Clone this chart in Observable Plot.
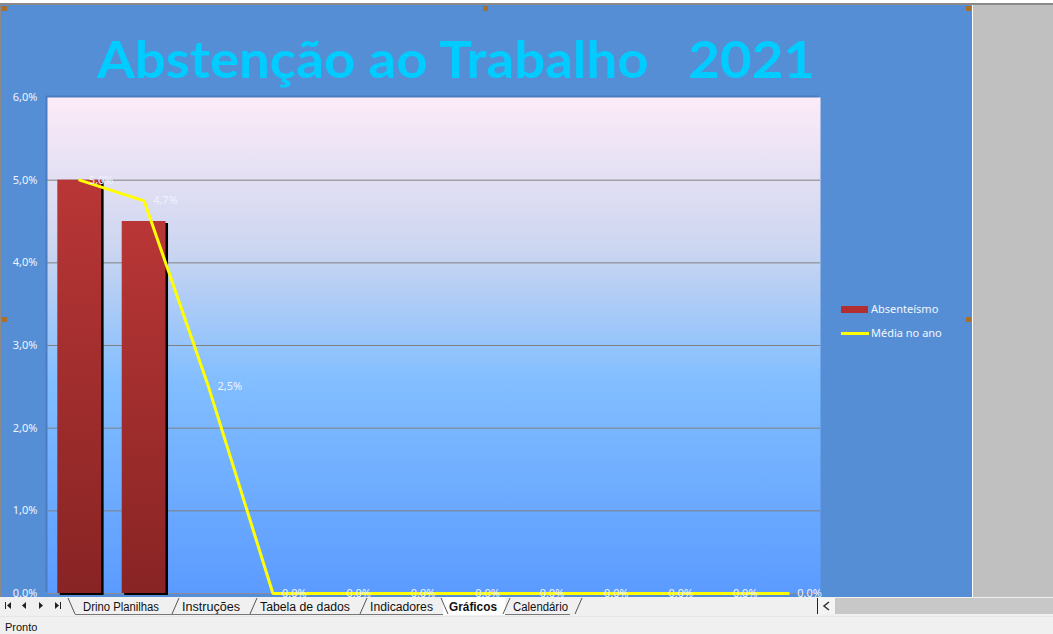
<!DOCTYPE html>
<html>
<head>
<meta charset="utf-8">
<script src="https://cdn.jsdelivr.net/npm/d3@7"></script>
<script src="https://cdn.jsdelivr.net/npm/@observablehq/plot@0.6"></script>
<style>
  html, body { margin: 0; padding: 0; background: #f0f0f0; }
  #page { position: relative; width: 1053px; height: 634px; overflow: hidden; background: #f0f0f0; font-family: "Liberation Sans", Arial, sans-serif; }
  .abs { position: absolute; }
</style>
</head>
<body>
<div id="page">
  <div class="abs" style="left:0;top:0;width:1053px;height:4px;background:#ffffff;"></div>
  <div class="abs" style="left:0;top:3px;width:1053px;height:2px;background:#8a8a8a;"></div>
  <div class="abs" style="left:973px;top:5px;width:80px;height:592px;background:#c0c0c0;"></div>
  <div class="abs" style="left:972px;top:5px;width:1px;height:592px;background:#ffffff;"></div>
  <div class="abs" style="left:0;top:5px;width:972px;height:592px;background:#558ed5;"></div>
  <div class="abs" style="left:0;top:5px;width:1px;height:592px;background:#8a8a8a;"></div>
  <div id="chart" class="abs" style="left:0;top:0;"></div>
  <svg id="title" class="abs" style="left:0;top:0;" width="973" height="95"></svg>
  <div id="legend" class="abs" style="left:0;top:0;"></div>
  <div id="handles"></div>
  <svg id="tabs" class="abs" style="left:0;top:597px;" width="1053" height="37"></svg>
</div>
<script>
// ---- data ----
const meses = ["Jan", "Fev", "Mar", "Abr", "Mai", "Jun", "Jul", "Ago", "Set", "Out", "Nov", "Dez"];
const absenteismo = [5.0, 4.5, 0, 0, 0, 0, 0, 0, 0, 0, 0, 0];
const mediaAno = [5.0, 4.75, 2.5, 0, 0, 0, 0, 0, 0, 0, 0, 0];
const mediaRotulos = ["5,0%", "4,7%", "2,5%", "0.0%", "0.0%", "0.0%", "0.0%", "0.0%", "0.0%", "0.0%", "0.0%", "0.0%"];
const yTicks = [0, 1, 2, 3, 4, 5, 6];
const yTickLabels = ["0.0%", "1,0%", "2,0%", "3,0%", "4,0%", "5,0%", "6,0%"];
const gridValues = [1, 2, 3, 4, 5];
const tituloTexto = "Abstenção ao Trabalho   2021";
const serieNomes = ["Absenteísmo", "Média no ano"];
const abas = ["Drino Planilhas", "Instruções", "Tabela de dados", "Indicadores", "Gráficos", "Calendário"];
const abaAtiva = "Gráficos";
const statusTexto = "Pronto";

const data = meses.map((m, i) => ({mes: m, abs: absenteismo[i], media: mediaAno[i], rotulo: mediaRotulos[i]}));

// ---- chart ----
const chart = Plot.plot({
  width: 973,
  height: 597,
  marginLeft: 47,
  marginRight: 153,
  marginTop: 97,
  marginBottom: 4,
  style: {background: "transparent", fontFamily: "'Noto Sans', 'Liberation Sans', sans-serif", fontSize: "11px", color: "#f0f4ff", overflow: "visible"},
  x: {domain: meses, paddingInner: 0.32, paddingOuter: 0.16, round: false, axis: null},
  y: {domain: [0, 6], ticks: yTicks, tickFormat: d => yTickLabels[yTicks.indexOf(d)], tickSize: 0, tickPadding: 10, label: null, axis: "left"},
  marks: [
    Plot.frame({fill: "#4c7cc0", dx: -2, dy: -2}),
    Plot.frame({fill: "url(#bgGrad)"}),
    Plot.ruleY(gridValues, {stroke: "#808080", strokeWidth: 1}),
    Plot.ruleY([0], {stroke: "#8a8a9a", strokeWidth: 1}),
    Plot.barY(data, {x: "mes", y: "abs", fill: "black", dx: 2.5, dy: 2}),
    Plot.barY(data, {x: "mes", y: "abs", fill: "url(#barGrad)"}),
    Plot.line(data, {x: "mes", y: "media", stroke: "#ffff00", strokeWidth: 3, strokeLinejoin: "miter"}),
    Plot.text(data, {x: "mes", y: "media", text: "rotulo", textAnchor: "start", dx: 9, fill: "#eef3ff", fontSize: 11})
  ]
});

d3.select(chart).insert("defs", ":first-child").html(`
  <linearGradient id="bgGrad" x1="0" y1="0" x2="0" y2="1">
    <stop offset="0" stop-color="#fdebf8"/>
    <stop offset="0.3" stop-color="#cdd6f0"/>
    <stop offset="0.57" stop-color="#82beff"/>
    <stop offset="1" stop-color="#5b9bff"/>
  </linearGradient>
  <linearGradient id="barGrad" x1="0" y1="0" x2="0" y2="1">
    <stop offset="0" stop-color="#b93636"/>
    <stop offset="1" stop-color="#882424"/>
  </linearGradient>`);
document.getElementById("chart").appendChild(chart);

// ---- title ----
d3.select("#title").append("text")
  .attr("x", 97).attr("y", 78)
  .attr("textLength", 718).attr("lengthAdjust", "spacingAndGlyphs")
  .attr("font-family", "Lato, 'Open Sans', sans-serif").attr("font-weight", 700)
  .attr("font-size", 52).attr("fill", "#00ccff")
  .style("white-space", "pre")
  .text(tituloTexto);

// ---- legend ----
const legend = d3.select("#legend");
legend.append("div").style("position", "absolute").style("left", "841px").style("top", "306px")
  .style("width", "27px").style("height", "7px").style("background", "#b32f2f");
legend.append("div").style("position", "absolute").style("left", "841px").style("top", "332px")
  .style("width", "28px").style("height", "3px").style("background", "#ffff00");
serieNomes.forEach((n, i) => {
  legend.append("div").style("position", "absolute").style("left", "871px").style("top", (301 + i * 24) + "px")
    .style("font-family", "'Noto Sans', sans-serif")
    .style("font-size", "11px").style("color", "#f2f6ff").style("white-space", "nowrap").text(n);
});

// selection handles
[[2, 6], [483, 6], [966, 6], [2, 317], [966, 317]].forEach(([x, y]) => {
  d3.select("#handles").append("div").attr("class", "abs")
    .style("left", x + "px").style("top", y + "px").style("width", "5px").style("height", "5px")
    .style("background", "#a8702c");
});

// ---- sheet tabs & status bar ----
const tabs = d3.select("#tabs");
tabs.append("rect").attr("x", 0).attr("y", 0).attr("width", 1053).attr("height", 37).attr("fill", "#f0f0f0");
const nav = tabs.append("g").attr("fill", "#222");
nav.append("rect").attr("x", 5).attr("y", 5).attr("width", 1).attr("height", 7);
nav.append("path").attr("d", "M7,8.5 L11,5 L11,12 Z");
nav.append("path").attr("d", "M22,8.5 L26,5 L26,12 Z");
nav.append("path").attr("d", "M39,5 L43,8.5 L39,12 Z");
nav.append("path").attr("d", "M55,5 L59,8.5 L55,12 Z");
nav.append("rect").attr("x", 60).attr("y", 5).attr("width", 1).attr("height", 7);
const tabX = [83, 182, 260, 370, 449, 513];
const tabW = [76, 58, 90, 63, 48, 55];
const sepX = [68, 172, 250, 360, 441, 503, 575];
tabs.append("line").attr("x1", 75).attr("x2", 570).attr("y1", 17.5).attr("y2", 17.5).attr("stroke", "#777");
tabs.append("rect").attr("x", 443).attr("y", 0).attr("width", 62).attr("height", 18).attr("fill", "#ffffff");
sepX.forEach((x, i) => {
  const back = i === 0 || i === 4;
  tabs.append("line")
    .attr("x1", back ? x : x + 7).attr("y1", 1)
    .attr("x2", back ? x + 7 : x).attr("y2", 17)
    .attr("stroke", "#555");
});
abas.forEach((a, i) => {
  tabs.append("text").attr("x", tabX[i]).attr("y", 14)
    .attr("font-size", 12).attr("fill", "#111")
    .attr("textLength", tabW[i]).attr("lengthAdjust", "spacingAndGlyphs")
    .attr("font-weight", a === abaAtiva ? 700 : 400)
    .text(a);
});
tabs.append("rect").attr("x", 835).attr("y", 1).attr("width", 218).attr("height", 16).attr("fill", "#c8c8c8");
tabs.append("rect").attr("x", 818).attr("y", 1).attr("width", 17).attr("height", 16).attr("fill", "#f4f4f4");
tabs.append("line").attr("x1", 817.5).attr("x2", 817.5).attr("y1", 1).attr("y2", 17).attr("stroke", "#222");
tabs.append("path").attr("d", "M829,5 L824,9 L829,13").attr("fill", "none").attr("stroke", "#333").attr("stroke-width", 1.6);
tabs.append("line").attr("x1", 0).attr("x2", 1053).attr("y1", 19.5).attr("y2", 19.5).attr("stroke", "#e6e6e6");
tabs.append("text").attr("x", 5).attr("y", 34).attr("font-size", 11).attr("fill", "#111").text(statusTexto);
</script>
</body>
</html>
